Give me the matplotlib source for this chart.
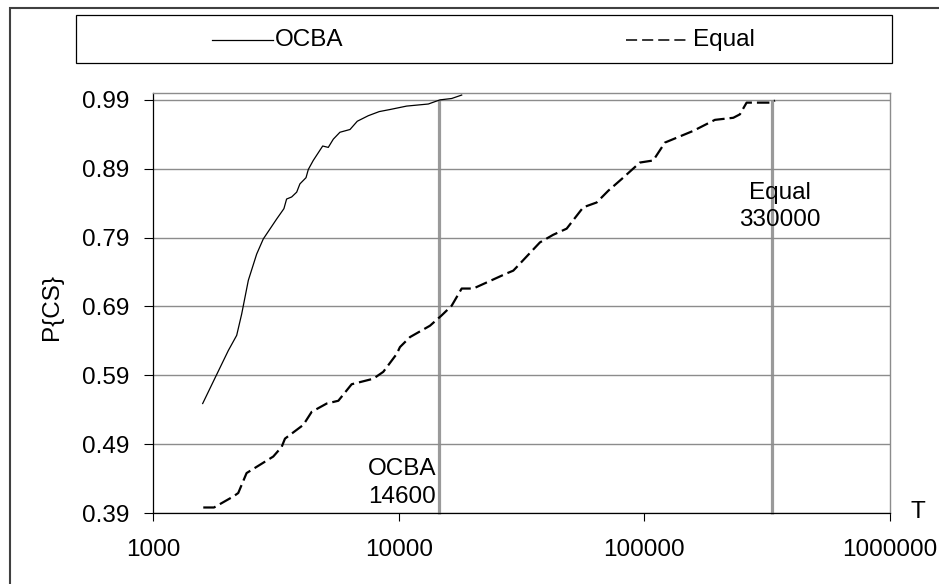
import matplotlib
matplotlib.use('Agg')
import matplotlib.pyplot as plt
import matplotlib.ticker as mticker
from matplotlib.lines import Line2D
from matplotlib.patches import Rectangle

plt.rcParams['font.family'] = ['Liberation Sans', 'DejaVu Sans']
plt.rcParams['lines.scale_dashes'] = False

# ---------------- data ----------------
ocba_T = [1593, 1771, 2026, 2191, 2296, 2444, 2642, 2811, 3187, 3411, 3498, 3668,
          3845, 3963, 4196, 4288, 4490, 4906, 5170, 5420, 5767, 6338, 6785, 7520,
          8335, 9218, 10777, 13200, 14720, 16430, 18050]
ocba_P = [0.549, 0.583, 0.626, 0.648, 0.679, 0.728, 0.766, 0.788, 0.817, 0.832, 0.846, 0.849,
          0.856, 0.868, 0.877, 0.889, 0.902, 0.923, 0.921, 0.933, 0.943, 0.947, 0.959, 0.967,
          0.973, 0.976, 0.981, 0.984, 0.990, 0.992, 0.997]

equal_T = [1602, 1771, 2123, 2223, 2404, 3087, 3340, 3445, 4092, 4427, 5095, 5680,
           6436, 7882, 8656, 9816, 10123, 11120, 13410, 14960, 16430, 18050, 20130,
           27520, 29280, 30200, 37580, 42530, 48290, 56410, 63970, 71300, 80830,
           95950, 108700, 121300, 158200, 193800, 230200, 244900, 260800, 324400, 340200]
equal_P = [0.398, 0.398, 0.414, 0.419, 0.448, 0.472, 0.486, 0.498, 0.518, 0.537, 0.549, 0.553,
           0.577, 0.585, 0.595, 0.621, 0.631, 0.6455, 0.662, 0.677, 0.691, 0.716, 0.716,
           0.738, 0.742, 0.747, 0.783, 0.794, 0.803, 0.834, 0.841, 0.858, 0.875,
           0.899, 0.902, 0.928, 0.945, 0.961, 0.964, 0.969, 0.986, 0.986, 0.989]

budget_T = [14600, 330000]
budget_labels = ['OCBA\n14600', 'Equal\n330000']
budget_label_P = [0.4335, 0.835]

x_ticks = [1000, 10000, 100000, 1000000]
x_ticklabels = ['1000', '10000', '100000', '1000000']
y_ticks = [0.39, 0.49, 0.59, 0.69, 0.79, 0.89, 0.99]
y_ticklabels = ['0.39', '0.49', '0.59', '0.69', '0.79', '0.89', '0.99']
series_names = ['OCBA', 'Equal']

# ---------------- layout ----------------
W, H = 939, 584
fig = plt.figure(figsize=(W / 100, H / 100), dpi=100)
fig.patch.set_facecolor('white')


def fx(px):
    return px / W


def fy(py):
    return 1 - py / H


FS = 17.5
ax = fig.add_axes([fx(153), fy(513), fx(890) - fx(153), (513 - 93) / H])
ax.set_xscale('log')
ax.set_xlim(1000, 1e6)
ax.set_ylim(0.39, 1.0)
ax.set_xticks(x_ticks)
ax.set_xticklabels(x_ticklabels)
ax.xaxis.set_minor_locator(mticker.NullLocator())
ax.set_yticks(y_ticks)
ax.set_yticklabels(y_ticklabels)
ax.yaxis.grid(True, color='#8c8c8c', lw=1.0)
ax.xaxis.grid(False)
for s in ['left', 'bottom']:
    ax.spines[s].set_color('black')
    ax.spines[s].set_linewidth(0.9)
for s in ['top', 'right']:
    ax.spines[s].set_color('#8c8c8c')
    ax.spines[s].set_linewidth(1.0)
ax.tick_params(axis='y', direction='out', length=6.5, width=0.8, pad=10.5, labelsize=FS)
ax.tick_params(axis='x', direction='out', length=5.8, width=0.8, pad=13, labelsize=FS)

# vertical budget lines
ylo = 0.39 - 8 / 690 * 0.1
ax.vlines(budget_T, ylo, 0.99, colors='#9a9a9a', lw=2.3, zorder=1.5, clip_on=False)

# curves
ax.plot(ocba_T, ocba_P, color='black', lw=0.9, zorder=3)
ax.plot(equal_T, equal_P, color='black', lw=1.6, linestyle=(0, (9, 3.6)), zorder=3)

# annotations
ax.annotate(budget_labels[0], xy=(budget_T[0], budget_label_P[0]), xytext=(-2, 0),
            textcoords='offset points', ha='right', va='center', multialignment='center',
            fontsize=FS, linespacing=1.3)
ax.annotate(budget_labels[1], xy=(budget_T[1], budget_label_P[1]), xytext=(6, 0),
            textcoords='offset points', ha='center', va='center', multialignment='center',
            fontsize=FS, linespacing=1.3)

# axis titles
fig.text(fx(52), fy(307), 'P{CS}', rotation=90, ha='center', va='center', fontsize=FS)
fig.text(fx(918), fy(512), 'T', ha='center', va='center', fontsize=FS)

# legend box
fig.add_artist(Rectangle((fx(76), fy(62.7)), fx(892) - fx(76), (62.7 - 15.3) / H,
                         transform=fig.transFigure, fill=False, ec='black', lw=0.9))
fig.add_artist(Line2D([fx(212), fx(273)], [fy(40), fy(40)], transform=fig.transFigure,
                      color='black', lw=0.9))
fig.text(fx(275), fy(40), series_names[0], ha='left', va='center', fontsize=FS)
fig.add_artist(Line2D([fx(626), fx(690)], [fy(40), fy(40)], transform=fig.transFigure,
                      color='black', lw=1.1, linestyle=(0, (8, 3.6))))
fig.text(fx(693), fy(40), series_names[1], ha='left', va='center', fontsize=FS)

# outer chart border (right/bottom fall outside the image)
fig.add_artist(Rectangle((fx(10), fy(620)), fx(980) - fx(10), (620 - 8) / H,
                         transform=fig.transFigure, fill=False, ec='#404040', lw=1.5,
                         clip_on=False))

fig.savefig('out.png', dpi=100, facecolor='white')
